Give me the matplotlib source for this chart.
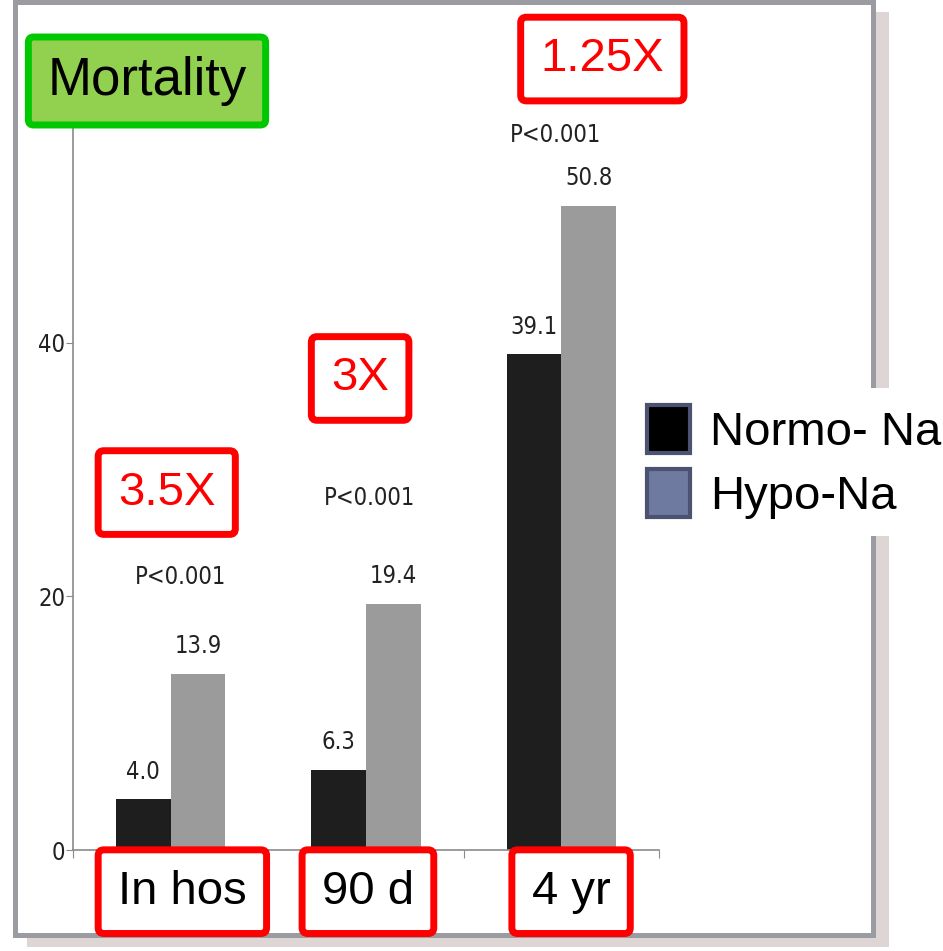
import matplotlib
matplotlib.use('Agg')
import matplotlib.pyplot as plt
from matplotlib.patches import Patch, Rectangle
import numpy as np

# mortality (%) by follow-up period
periods = ['In hos', '90 d', '4 yr']
normo_na = [4.0, 6.3, 39.1]
hypo_na = [13.9, 19.4, 50.8]
ratios = ['3.5X', '3X', '1.25X']
p_values = ['P<0.001', 'P<0.001', 'P<0.001']
yticks = [0, 20, 40]

# where the annotations sit (data coords)
P_LABEL_POS = [(0.05, 21.5), (1.02, 27.8), (1.97, 56.4)]
RATIO_POS = [(-0.02, 28.2), (0.97, 37.2), (2.21, 62.4)]
PERIOD_X = [0.06, 1.01, 2.05]

BIG_FONT = ['Liberation Sans', 'DejaVu Sans']
SMALL = dict(family=['DejaVu Sans'], stretch='condensed', fontsize=17, color='#222222')
AXIS_GRAY = '#8a8a8a'
RED_BOX = dict(boxstyle='round,pad=0.42,rounding_size=0.12', fc='white', ec='#ff0000', lw=5)

fig = plt.figure(figsize=(9.43, 9.51), dpi=100)

# slide frame with drop shadow
fig.add_artist(Rectangle((0.0286, 0.0042), 0.914, 0.983, transform=fig.transFigure,
                         fc='#ddd6d4', ec='none', zorder=-3))
fig.add_artist(Rectangle((0.0159, 0.0168), 0.9099, 0.9811, transform=fig.transFigure,
                         fc='white', ec='#9a9ca2', lw=3.6, zorder=-2))

ax = fig.add_axes([0.0774, 0.1062, 0.6214, 0.7624])
ax.patch.set_alpha(0)
x = np.arange(len(periods))
w = 0.28
ax.bar(x - w / 2, normo_na, w, color='#1e1e1e')
ax.bar(x + w / 2, hypo_na, w, color='#9b9b9b')

for xi, a, b in zip(x, normo_na, hypo_na):
    for xx, v in ((xi - w / 2, a), (xi + w / 2, b)):
        ax.annotate(f'{v:.1f}', (xx, v), xytext=(0, 20), textcoords='offset points',
                    ha='center', va='center', **SMALL)

for (px, py), txt in zip(P_LABEL_POS, p_values):
    ax.text(px, py, txt, ha='center', va='center', **SMALL)

for (rx, ry), txt in zip(RATIO_POS, ratios):
    ax.text(rx, ry, txt, ha='center', va='center', fontsize=34, family=BIG_FONT,
            color='#ff0000', bbox=RED_BOX, clip_on=False)

# period names boxed under the groups
for px, txt in zip(PERIOD_X, periods):
    ax.annotate(txt, (px, 0), xytext=(0, -30), textcoords='offset points',
                ha='center', va='center', fontsize=34, family=BIG_FONT,
                bbox=RED_BOX, annotation_clip=False)

ax.set_xlim(-0.5, 2.5)
ax.set_ylim(0, 57.2)
ax.spines[['top', 'right']].set_visible(False)
for s in ('left', 'bottom'):
    ax.spines[s].set_color(AXIS_GRAY)
    ax.spines[s].set_linewidth(1.2)

ax.set_yticks(yticks)
ax.tick_params(axis='y', direction='out', length=5, color=AXIS_GRAY, pad=0.5)
for lbl in ax.get_yticklabels():
    lbl.set_family(SMALL['family'])
    lbl.set_stretch('condensed')
    lbl.set_fontsize(17)
    lbl.set_color('#222222')

ax.set_xticks([-0.5, 0.5, 1.5, 2.5])
ax.set_xticklabels([])
ax.tick_params(axis='x', length=6, direction='out', color=AXIS_GRAY)

fig.text(147 / 943, 1 - 81 / 951, 'Mortality', fontsize=38, family=BIG_FONT,
         ha='center', va='center',
         bbox=dict(boxstyle='round,pad=0.36,rounding_size=0.1', fc='#92d050', ec='#00c800', lw=5))

handles = [Patch(fc='black', ec='#4b5272', lw=3, label='Normo- Na'),
           Patch(fc='#6f7aa0', ec='#4b5272', lw=3, label='Hypo-Na')]
fig.legend(handles=handles, loc='upper left', bbox_to_anchor=(630 / 943, 1 - 388 / 951),
           prop={'family': BIG_FONT, 'size': 34}, frameon=True, facecolor='white',
           edgecolor='none', fancybox=False, framealpha=1, borderpad=0.35,
           handlelength=0.92, handleheight=1.2, handletextpad=0.43, labelspacing=0.3,
           borderaxespad=0)

fig.savefig('out.png', dpi=100)
